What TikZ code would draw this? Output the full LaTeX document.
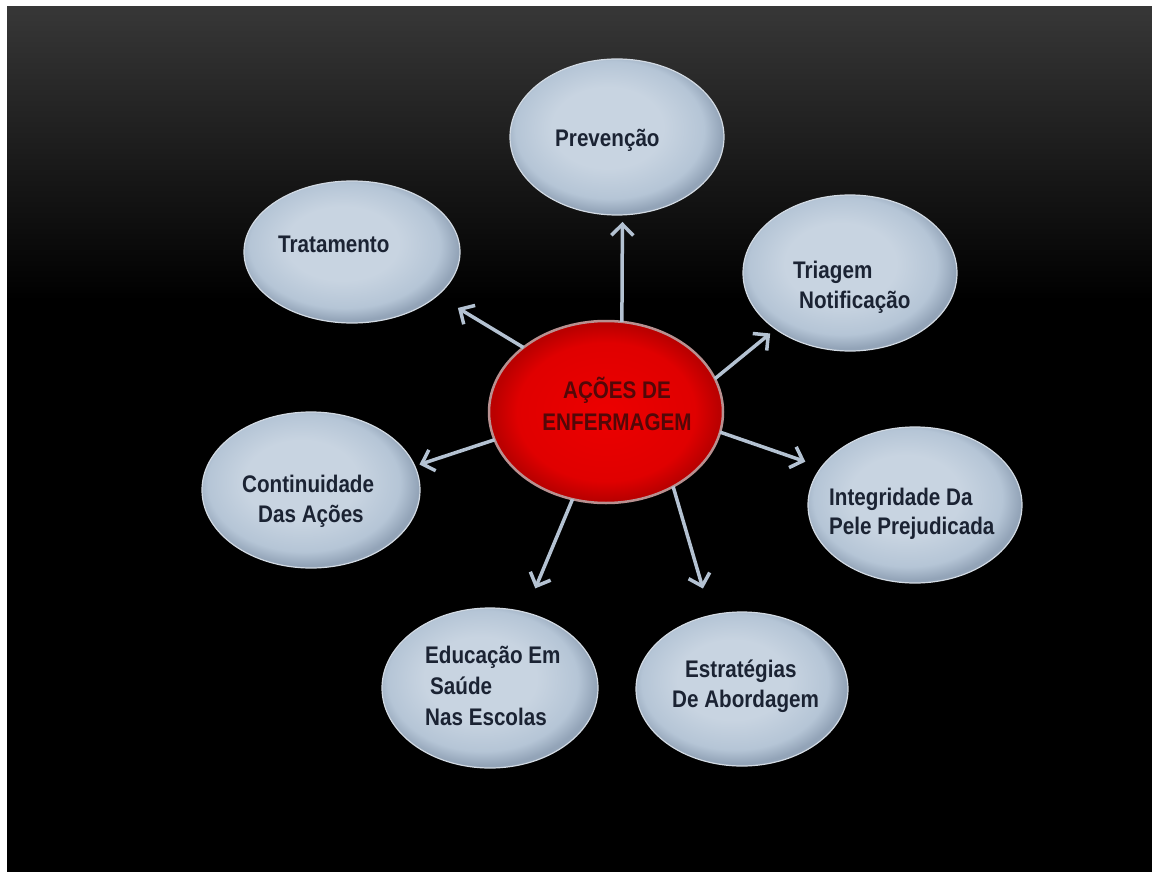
\documentclass[tikz,border=0pt]{standalone}
\usepackage{fontspec}
\newfontfamily\lblfont{Liberation Sans}[FakeStretch=0.86]
\usetikzlibrary{arrows.meta,shapes.geometric}
\definecolor{bgtop}{HTML}{373737}
\definecolor{ecenter}{HTML}{C8D4E1}
\definecolor{emid}{HTML}{B5C5D6}
\definecolor{eedge}{HTML}{93A4B8}
\definecolor{erim}{HTML}{D2DAE3}
\definecolor{rcenter}{HTML}{EC0000}
\definecolor{rmid}{HTML}{E00000}
\definecolor{redge}{HTML}{BB0000}
\definecolor{rrim}{HTML}{B89090}
\definecolor{arrowc}{HTML}{B4C2D2}
\definecolor{txt}{HTML}{1B2333}
\definecolor{rtxt}{HTML}{520808}
\pgfdeclareradialshading{ellshade}{\pgfpoint{-3bp}{4bp}}{color(0bp)=(ecenter); color(13bp)=(ecenter); color(22bp)=(emid); color(26bp)=(eedge); color(50bp)=(eedge)}
\pgfdeclareradialshading{redshade}{\pgfpoint{0bp}{0bp}}{color(0bp)=(rcenter); color(19bp)=(rmid); color(24bp)=(redge); color(25bp)=(redge); color(50bp)=(redge)}
\tikzset{
  bubble/.style={ellipse, shading=ellshade, draw=erim, line width=1.2pt, inner sep=0pt, outer sep=0pt},
  hub/.style={ellipse, shading=redshade, draw=rrim, line width=2.5pt, inner sep=0pt, outer sep=0pt},
  lbl/.style={anchor=base west, inner sep=0pt, text=txt, font=\lblfont\bfseries\fontsize{24}{28}\selectfont},
  hublbl/.style={anchor=base, inner sep=0pt, text=rtxt, font=\lblfont\bfseries\fontsize{24}{28}\selectfont},
  link/.style={draw=arrowc, line width=3.5pt, -{Straight Barb[length=11pt,width=22pt]}},
}
\begin{document}
\begin{tikzpicture}[x=1pt,y=-1pt]
\useasboundingbox (0,0) rectangle (1152,872);
\fill[white] (0,0) rectangle (1152,872);
\fill[black] (7,7) rectangle (1152,872);
\shade[top color=bgtop, bottom color=black] (7,7) rectangle (1152,300);

\node[bubble, minimum width=214pt, minimum height=156pt] (prev) at (617,137) {};
\node[bubble, minimum width=216pt, minimum height=142pt] (trat) at (352,252) {};
\node[bubble, minimum width=214pt, minimum height=156pt] (tri) at (850,273) {};
\node[bubble, minimum width=218pt, minimum height=156pt] (cont) at (311,490) {};
\node[bubble, minimum width=214pt, minimum height=156pt] (integ) at (915,505) {};
\node[bubble, minimum width=216pt, minimum height=160pt] (edu) at (490,688) {};
\node[bubble, minimum width=212pt, minimum height=154pt] (estr) at (742,689) {};
\node[hub, minimum width=234pt, minimum height=182pt] (c) at (606,412) {};

\draw[link, shorten >=7pt] (c.80) -- (prev.-86);
\draw[link, shorten >=24pt] (c.142) -- (trat.-27);
\draw[link, shorten >=7pt] (c.17) -- (tri.-143);
\draw[link, shorten >=17pt] (c.-10) -- (integ.158);
\draw[link, shorten >=28pt] (c.-48) -- (estr.113);
\draw[link, shorten >=26pt] (c.-111) -- (edu.65);
\draw[link, shorten >=5pt] (c.-166) -- (cont.13);

\node[hublbl] (h1) at (617,398) {AÇÕES DE};
\node[hublbl] (h2) at (617,430) {ENFERMAGEM};

\node[lbl] (tprev) at (555,147) {Prevenção};
\node[lbl] (ttrat) at (278,252) {Tratamento};
\node[lbl] (ttri1) at (793,278) {Triagem};
\node[lbl] (ttri2) at (799,308) {Notificação};
\node[lbl] (tcont1) at (242,492) {Continuidade};
\node[lbl] (tcont2) at (258,522) {Das Ações};
\node[lbl] (tint1) at (829,505) {Integridade Da};
\node[lbl] (tint2) at (829,534) {Pele Prejudicada};
\node[lbl] (tedu1) at (425,663) {Educação Em};
\node[lbl] (tedu2) at (430,694) {Saúde};
\node[lbl] (tedu3) at (425,725) {Nas Escolas};
\node[lbl] (test1) at (685,677) {Estratégias};
\node[lbl] (test2) at (672,707) {De Abordagem};
\end{tikzpicture}
\end{document}
